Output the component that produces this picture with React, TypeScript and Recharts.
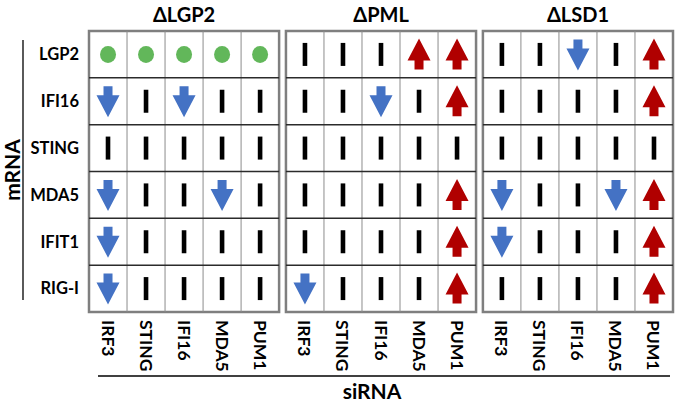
import {
  ScatterChart,
  Scatter,
  XAxis,
  YAxis,
  ReferenceArea,
  ReferenceLine,
  Customized,
} from 'recharts';

// knock-out cell lines (one panel each)
const panelTitles = ['\u0394LGP2', '\u0394PML', '\u0394LSD1'];
// mRNA read-outs (rows)
const rowLabels = ['LGP2', 'IFI16', 'STING', 'MDA5', 'IFIT1', 'RIG-I'];
// siRNA knock-downs (columns)
const colLabels = ['IRF3', 'STING', 'IFI16', 'MDA5', 'PUM1'];

// 1 = up, -1 = down, 0 = unchanged, 2 = gene knocked out
const lgp2Values = [
  [2, 2, 2, 2, 2],
  [-1, 0, -1, 0, 0],
  [0, 0, 0, 0, 0],
  [-1, 0, 0, -1, 0],
  [-1, 0, 0, 0, 0],
  [-1, 0, 0, 0, 0],
];
const pmlValues = [
  [0, 0, 0, 1, 1],
  [0, 0, -1, 0, 1],
  [0, 0, 0, 0, 0],
  [0, 0, 0, 0, 1],
  [0, 0, 0, 0, 1],
  [-1, 0, 0, 0, 1],
];
const lsd1Values = [
  [0, 0, -1, 0, 1],
  [0, 0, 0, 0, 1],
  [0, 0, 0, 0, 0],
  [-1, 0, 0, -1, 1],
  [-1, 0, 0, 0, 1],
  [0, 0, 0, 0, 1],
];

const panels = [lgp2Values, pmlValues, lsd1Values];
const GAP = 0.18;
const panelStart = (p: number) => p * (colLabels.length + GAP);
const xMax = panelStart(panels.length) - GAP;

const points = panels.flatMap((grid, p) =>
  grid.flatMap((row, r) =>
    row.map((v, c) => ({ x: panelStart(p) + c + 0.5, y: r + 0.5, v })),
  ),
);
const colTicks = panels.flatMap((_, p) => colLabels.map((_, c) => panelStart(p) + c + 0.5));
const rowTicks = rowLabels.map((_, r) => r + 0.5);

const BLUE = '#4472c4';
const RED = '#b00000';
const GREEN = '#62b75a';
const FONT = 'Lato, "Open Sans", sans-serif';

function Mark(props: any) {
  const { cx, cy, payload } = props;
  const v = payload.v;
  if (v === 2) return <ellipse cx={cx} cy={cy} rx={8} ry={8.5} fill={GREEN} />;
  if (v === 0) return <rect x={cx - 2.3} y={cy - 11.5} width={4.6} height={23} fill="#000" />;
  const s = v === 1 ? -1 : 1; // down arrow points +y
  const top = cy - 15 * s;
  const neck = cy - 6 * s;
  const tip = cy + 16 * s;
  const d = `M${cx - 4.5},${top} L${cx + 4.5},${top} L${cx + 4.5},${neck} L${cx + 11.5},${neck} L${cx},${tip} L${cx - 11.5},${neck} L${cx - 4.5},${neck} Z`;
  return <path d={d} fill={v === 1 ? RED : BLUE} />;
}

function ColTick(props: any) {
  const { x, y, payload } = props;
  const i = colTicks.indexOf(payload.value) % colLabels.length;
  return (
    <text
      transform={`translate(${x},${y + 2}) rotate(90)`}
      textAnchor="start"
      dominantBaseline="central"
      fontSize={17.5}
      fontWeight={700}
      fill="#000"
    >
      {colLabels[i]}
    </text>
  );
}

function Brackets() {
  return (
    <g>
      <line x1={23} y1={40} x2={23} y2={300} stroke="#000" strokeWidth={1.3} />
      <text
        transform="translate(11,170) rotate(-90)"
        textAnchor="middle"
        dominantBaseline="central"
        fontSize={21}
        fontWeight={700}
        fill="#000"
        fontFamily={FONT}
      >
        mRNA
      </text>
      <line x1={98} y1={376} x2={670} y2={376} stroke="#000" strokeWidth={1.3} />
      <text x={372} y={399} textAnchor="middle" fontSize={21} fontWeight={700} fill="#000" fontFamily={FONT}>
        siRNA
      </text>
    </g>
  );
}

export default function App() {
  return (
    <div style={{ position: 'absolute', left: 0, top: 0 }}>
      <ScatterChart
        width={677}
        height={402}
        margin={{ top: 31, right: 4, bottom: 0, left: 0 }}
        style={{ fontFamily: FONT }}
      >
        <XAxis
          type="number"
          dataKey="x"
          domain={[0, xMax]}
          allowDataOverflow
          ticks={colTicks}
          interval={0}
          height={90}
          axisLine={false}
          tickLine={false}
          tickSize={0}
          tickMargin={6}
          tick={<ColTick />}
        />
        <YAxis
          type="number"
          dataKey="y"
          domain={[0, rowLabels.length]}
          reversed
          allowDataOverflow
          ticks={rowTicks}
          interval={0}
          width={89}
          axisLine={false}
          tickLine={false}
          tickSize={0}
          tickMargin={10}
          tickFormatter={(v: number) => rowLabels[Math.floor(v)]}
          tick={{ fill: '#000', fontSize: 16.5, fontWeight: 700 }}
        />
        {panels.map((_, p) => (
          <ReferenceArea
            key={`panel-${p}`}
            x1={panelStart(p)}
            x2={panelStart(p) + colLabels.length}
            y1={0}
            y2={rowLabels.length}
            fill="#fff"
            fillOpacity={0}
            stroke="#7f7f7f"
            strokeWidth={2.5}
            ifOverflow="visible"
            label={{
              value: panelTitles[p],
              position: 'top',
              offset: 9,
              fill: '#000',
              fontSize: 20,
              fontWeight: 700,
            }}
          />
        ))}
        {panels.flatMap((_, p) =>
          colLabels.slice(1).map((_, c) => (
            <ReferenceLine
              key={`v-${p}-${c}`}
              segment={[
                { x: panelStart(p) + c + 1, y: 0 },
                { x: panelStart(p) + c + 1, y: rowLabels.length },
              ]}
              stroke="#8c8c8c"
              strokeWidth={1}
            />
          )),
        )}
        {panels.flatMap((_, p) =>
          rowLabels.slice(1).map((_, r) => (
            <ReferenceLine
              key={`h-${p}-${r}`}
              segment={[
                { x: panelStart(p), y: r + 1 },
                { x: panelStart(p) + colLabels.length, y: r + 1 },
              ]}
              stroke="#2b2b2b"
              strokeWidth={1.5}
            />
          )),
        )}
        <Scatter data={points} shape={<Mark />} isAnimationActive={false} />
        <Customized component={<Brackets />} />
      </ScatterChart>
    </div>
  );
}
